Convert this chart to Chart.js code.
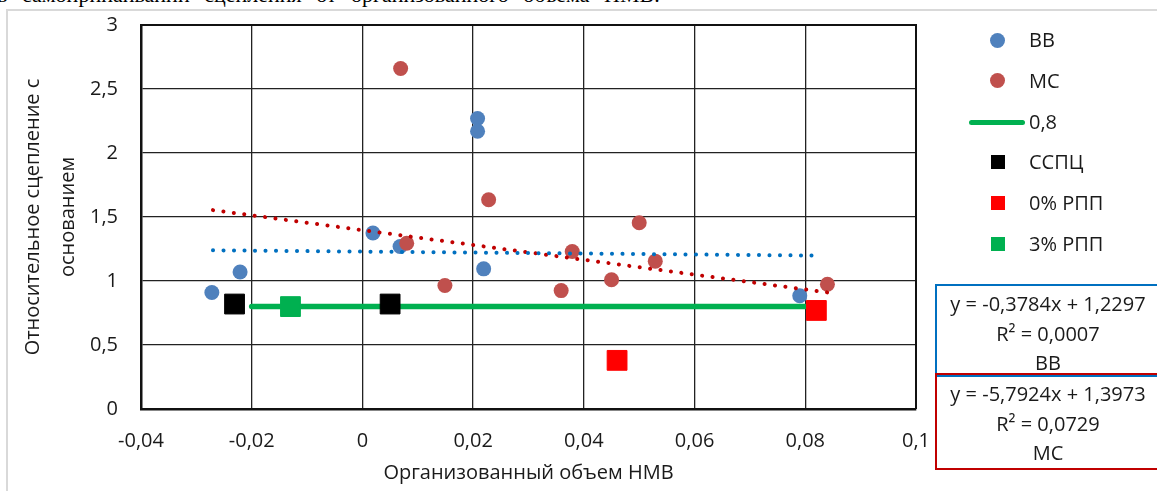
<!DOCTYPE html>
<html lang="ru">
<head>
<meta charset="utf-8">
<script src="https://cdn.jsdelivr.net/npm/chart.js@4/dist/chart.umd.min.js"></script>
<style>
  html, body { margin: 0; padding: 0; background: #fff; overflow: hidden; }
  #wrap { position: relative; width: 1157px; height: 491px; overflow: hidden; font-family: 'Open Sans', sans-serif; color: #1a1a1a; }
  #topline { position: absolute; left: -3px; top: -18px; font: 22px 'Liberation Serif', serif; white-space: nowrap; color: #000; word-spacing: 9px; }
  #frame { position: absolute; left: 6px; top: 9px; width: 1200px; height: 600px; border: 2px solid #d9d9d9; }
  #chartBox { position: absolute; left: 0; top: 0; width: 1157px; height: 491px; }
  .leg { position: absolute; left: 969px; height: 30px; font-size: 20px; line-height: 30px; }
  .leg span { position: absolute; left: 60px; top: 0; white-space: nowrap; }
  .mk { position: absolute; }
  .eq { position: absolute; left: 935px; width: 260px; border: 2px solid; box-sizing: border-box; font-size: 20px; line-height: 29.5px; }
  .eq div { width: 222px; text-align: center; }
</style>
</head>
<body>
<div id="wrap">
  <div id="topline">в самоприпаивании сцепления от организованного объема НМВ.</div>
  <div id="frame"></div>
  <div id="chartBox"><canvas id="chart" width="1157" height="491"></canvas></div>
  <div id="legend"></div>
  <div class="eq" style="top:284px;height:93px;border-color:#0070C0;padding-top:3px;">
    <div>y = -0,3784x + 1,2297</div><div>R² = 0,0007</div><div>ВВ</div>
  </div>
  <div class="eq" style="top:373px;height:97px;border-color:#C00000;padding-top:4px;">
    <div>y = -5,7924x + 1,3973</div><div>R² = 0,0729</div><div>МС</div>
  </div>
</div>
<script>
// series values
const bbX = [-0.0272, -0.0221, 0.0019, 0.0068, 0.0208, 0.0208, 0.0219, 0.079];
const bbY = [0.91, 1.07, 1.375, 1.27, 2.27, 2.17, 1.095, 0.885];
const mcX = [0.0069, 0.008, 0.0149, 0.0228, 0.0359, 0.0379, 0.045, 0.05, 0.0529, 0.084];
const mcY = [2.66, 1.295, 0.965, 1.635, 0.925, 1.23, 1.01, 1.455, 1.155, 0.975];
const sspcX = [-0.0231, 0.005];
const sspcY = [0.82, 0.82];
const rpp0X = [0.046, 0.082];
const rpp0Y = [0.38, 0.77];
const rpp3X = [-0.013];
const rpp3Y = [0.8];
const levelX = [-0.02, 0.08];
const levelY = [0.8, 0.8];

// linear trends (from equations on the chart)
const bbTrend = { slope: -0.3784, icept: 1.2297, from: -0.027, to: 0.083 };
const mcTrend = { slope: -5.7924, icept: 1.3973, from: -0.027, to: 0.084 };

const xTicks = [-0.04, -0.02, 0, 0.02, 0.04, 0.06, 0.08, 0.1];
const yTicks = [0, 0.5, 1, 1.5, 2, 2.5, 3];

const legendItems = [
  { label: 'ВВ', type: 'circle', color: '#4F81BD' },
  { label: 'МС', type: 'circle', color: '#C0504D' },
  { label: '0,8', type: 'line', color: '#00B050' },
  { label: 'ССПЦ', type: 'square', color: '#000000' },
  { label: '0% РПП', type: 'square', color: '#FF0000' },
  { label: '3% РПП', type: 'square', color: '#00B050' }
];

function pts(xs, ys) {
  return xs.map(function (x, i) { return { x: x, y: ys[i] }; });
}
function trendPts(t) {
  return [t.from, t.to].map(function (x) { return { x: x, y: t.slope * x + t.icept }; });
}
function fmt(v) {
  return String(Math.round(v * 100) / 100).replace('.', ',');
}

// legend on the right
const legendEl = document.getElementById('legend');
legendItems.forEach(function (item, i) {
  const row = document.createElement('div');
  row.className = 'leg';
  row.style.top = (25 + i * 40.8) + 'px';
  const mk = document.createElement('div');
  mk.className = 'mk';
  if (item.type === 'circle') {
    mk.style.cssText = 'left:21px;top:7.5px;width:15px;height:15px;border-radius:50%;background:' + item.color;
  } else if (item.type === 'square') {
    mk.style.cssText = 'left:22px;top:8px;width:14px;height:14px;background:' + item.color;
  } else {
    mk.style.cssText = 'left:0;top:13px;width:56px;height:5px;border-radius:3px;background:' + item.color;
  }
  row.appendChild(mk);
  const sp = document.createElement('span');
  sp.textContent = item.label;
  row.appendChild(sp);
  legendEl.appendChild(row);
});

Chart.defaults.font.family = "'Open Sans', sans-serif";
Chart.defaults.font.size = 20;
Chart.defaults.color = '#1a1a1a';

const dotted = {
  showLine: true,
  borderWidth: 4,
  borderDash: [0.1, 10.4],
  borderCapStyle: 'round',
  pointRadius: 0,
  fill: false
};

new Chart(document.getElementById('chart'), {
  type: 'scatter',
  data: {
    datasets: [
      Object.assign({ label: 'BB trend', data: trendPts(bbTrend), borderColor: '#0070C0' }, dotted),
      Object.assign({ label: 'MC trend', data: trendPts(mcTrend), borderColor: '#C00000' }, dotted),
      {
        label: 'ССПЦ', data: pts(sspcX, sspcY), pointStyle: 'rect',
        pointRadius: 14, backgroundColor: '#000000', borderColor: '#000000', borderWidth: 1
      },
      {
        label: '0% РПП', data: pts(rpp0X, rpp0Y), pointStyle: 'rect',
        pointRadius: 14, backgroundColor: '#FF0000', borderColor: '#FF0000', borderWidth: 1
      },
      {
        label: '3% РПП', data: pts(rpp3X, rpp3Y), pointStyle: 'rect',
        pointRadius: 14, backgroundColor: '#00B050', borderColor: '#00B050', borderWidth: 1
      },
      {
        label: '0,8', data: pts(levelX, levelY), showLine: true,
        borderColor: '#00B050', borderWidth: 5.5, borderCapStyle: 'round', pointRadius: 0
      },
      {
        label: 'МС', data: pts(mcX, mcY), pointRadius: 7.5,
        backgroundColor: '#C0504D', borderColor: '#C0504D', borderWidth: 0
      },
      {
        label: 'ВВ', data: pts(bbX, bbY), pointRadius: 7.5,
        backgroundColor: '#4F81BD', borderColor: '#4F81BD', borderWidth: 0
      }
    ]
  },
  options: {
    responsive: false,
    animation: false,
    layout: { padding: { left: 0, top: 25, right: 241, bottom: 0 } },
    plugins: {
      legend: { display: false },
      tooltip: { enabled: false }
    },
    scales: {
      x: {
        type: 'linear',
        min: -0.04,
        max: 0.1,
        afterBuildTicks: function (scale) {
          scale.ticks = xTicks.map(function (v) { return { value: v }; });
        },
        afterFit: function (scale) { scale.height = 82; },
        grid: { color: '#222', lineWidth: 1.3, drawTicks: false },
        border: { color: '#111', width: 2.5 },
        ticks: {
          padding: 20,
          maxRotation: 0,
          callback: function (v) { return fmt(v); }
        },
        title: {
          display: true,
          text: 'Организованный объем НМВ',
          padding: { top: 0, bottom: 6 }
        }
      },
      y: {
        min: 0,
        max: 3,
        afterBuildTicks: function (scale) {
          scale.ticks = yTicks.map(function (v) { return { value: v }; });
        },
        afterFit: function (scale) {
          scale.width = 141;
          // keep the plot top at the layout padding
          scale.paddingTop = 0;
          scale.paddingBottom = 0;
        },
        grid: { color: '#222', lineWidth: 1.3, drawTicks: false },
        border: { color: '#111', width: 2.5 },
        ticks: {
          padding: 23,
          callback: function (v) { return fmt(v); }
        },
        title: {
          display: true,
          text: ['Относительное сцепление с', 'основанием'],
          font: { size: 20, lineHeight: 1.75 },
          padding: { top: 16, bottom: 0 }
        }
      }
    }
  },
  plugins: [{
    // right and top frame of the plot area
    id: 'plotFrame',
    afterDraw: function (chart) {
      const a = chart.chartArea, ctx = chart.ctx;
      ctx.save();
      ctx.strokeStyle = '#111';
      ctx.lineWidth = 2;
      ctx.beginPath();
      ctx.moveTo(a.left, a.top);
      ctx.lineTo(a.right, a.top);
      ctx.lineTo(a.right, a.bottom);
      ctx.stroke();
      ctx.restore();
    }
  }]
});
</script>
</body>
</html>
